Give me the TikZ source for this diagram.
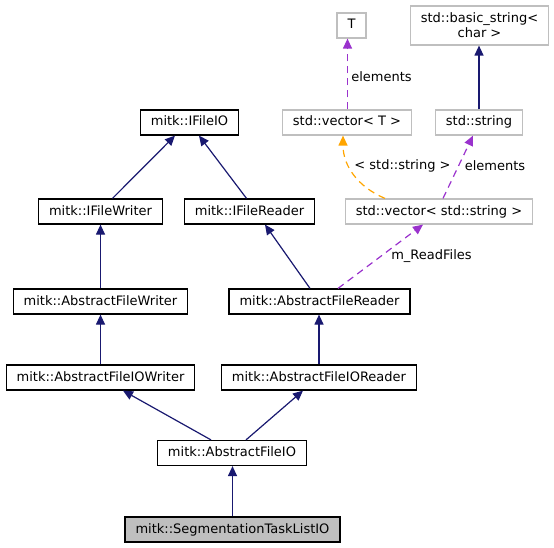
\documentclass[tikz,border=0pt]{standalone}
\usepackage{fontspec}
\setmainfont{DejaVu Sans}
\usetikzlibrary{positioning,shapes,arrows.meta}
\definecolor{edgeblue}{HTML}{191970}
\definecolor{edgepurple}{HTML}{9A32CD}
\definecolor{edgeorange}{HTML}{FFA500}
\definecolor{boxgrey}{HTML}{BFBFBF}
\tikzstyle{cls} = [draw=black, rectangle, fill=white, line width=1.2pt, inner xsep=10.5pt, minimum height=25pt, text height=9.5pt, text depth=2.5pt, font=\fontsize{13}{15}\selectfont]
\tikzstyle{ext} = [cls, draw=boxgrey]
\tikzstyle{current} = [cls, fill=boxgrey]
\tikzstyle{inherit} = [draw, color=edgeblue, line width=1.2pt, -{Triangle[length=10pt,width=9pt]}]
\tikzstyle{member} = [draw, color=edgepurple, line width=1.2pt, dash pattern=on 7pt off 5pt, -{Triangle[length=10pt,width=9pt]}]
\tikzstyle{templ} = [draw, color=edgeorange, line width=1.2pt, dash pattern=on 7pt off 5pt, -{Triangle[length=10pt,width=9pt]}]
\tikzstyle{elabel} = [inner sep=0pt, font=\fontsize{13}{15}\selectfont]

\begin{document}
\begin{tikzpicture}[x=1pt, y=-1pt]
    \useasboundingbox (0,0) rectangle (554,548);

    % Place nodes
    \node [ext] (t) at (351.5,25.5) {T};
    \node [ext, align=center, minimum height=39pt, text height=, text depth=] (basic-string) at (479.5,25.5) {std::basic\_string<\\char >};
    \node [ext] (vector-t) at (347,122.5) {std::vector< T >};
    \node [ext] (string) at (479,122.5) {std::string};
    \node [cls] (ifileio) at (189.5,122.5) {mitk::IFileIO};
    \node [cls] (ifilewriter) at (100.5,211.5) {mitk::IFileWriter};
    \node [cls] (ifilereader) at (249.5,211.5) {mitk::IFileReader};
    \node [ext] (vector-string) at (439,211.5) {std::vector< std::string >};
    \node [cls] (abstract-writer) at (100.5,301.5) {mitk::AbstractFileWriter};
    \node [cls] (abstract-reader) at (319.5,301.5) {mitk::AbstractFileReader};
    \node [cls] (abstract-io-writer) at (100.5,377.5) {mitk::AbstractFileIOWriter};
    \node [cls] (abstract-io-reader) at (319,377.5) {mitk::AbstractFileIOReader};
    \node [cls] (abstract-io) at (232,453) {mitk::AbstractFileIO};
    \node [current] (task-list-io) at (232.5,529.5) {mitk::SegmentationTaskListIO};

    % Edge labels
    \node [elabel] (lbl-t) at (381.5,77) {elements};
    \node [elabel] (lbl-templ) at (402.5,166) {< std::string >};
    \node [elabel] (lbl-string) at (495,166) {elements};
    \node [elabel] (lbl-files) at (431.5,256) {m\_ReadFiles};

    % Draw edges
    \path [member] ([xshift=0.5pt]vector-t.north) -- ([xshift=0.5pt]vector-t.north |- t.south);
    \path [inherit] (string.north) -- (string.north |- basic-string.south);
    \path [templ] ([xshift=-54pt]vector-string.north) .. controls (358,187) and (343,166) .. ([xshift=-4pt]vector-t.south);
    \path [member] ([xshift=4pt]vector-string.north) -- ([xshift=-6pt]string.south);
    \path [member] ([xshift=18.5pt]abstract-reader.north) -- ([xshift=-16pt]vector-string.south);
    \path [inherit] ([xshift=12pt]ifilewriter.north) -- ([xshift=-14.5pt]ifileio.south);
    \path [inherit] ([xshift=-3pt]ifilereader.north) -- ([xshift=9.5pt]ifileio.south);
    \path [inherit] (abstract-writer) -- (ifilewriter);
    \path [inherit] ([xshift=-9.5pt]abstract-reader.north) -- ([xshift=15.5pt]ifilereader.south);
    \path [inherit] (abstract-io-writer) -- (abstract-writer);
    \path [inherit] (abstract-io-reader.north) -- (abstract-io-reader.north |- abstract-reader.south);
    \path [inherit] ([xshift=-21pt]abstract-io.north) -- ([xshift=22.5pt]abstract-io-writer.south);
    \path [inherit] ([xshift=14pt]abstract-io.north) -- ([xshift=-16pt]abstract-io-reader.south);
    \path [inherit] (task-list-io.north) -- (task-list-io.north |- abstract-io.south);
\end{tikzpicture}
\end{document}
